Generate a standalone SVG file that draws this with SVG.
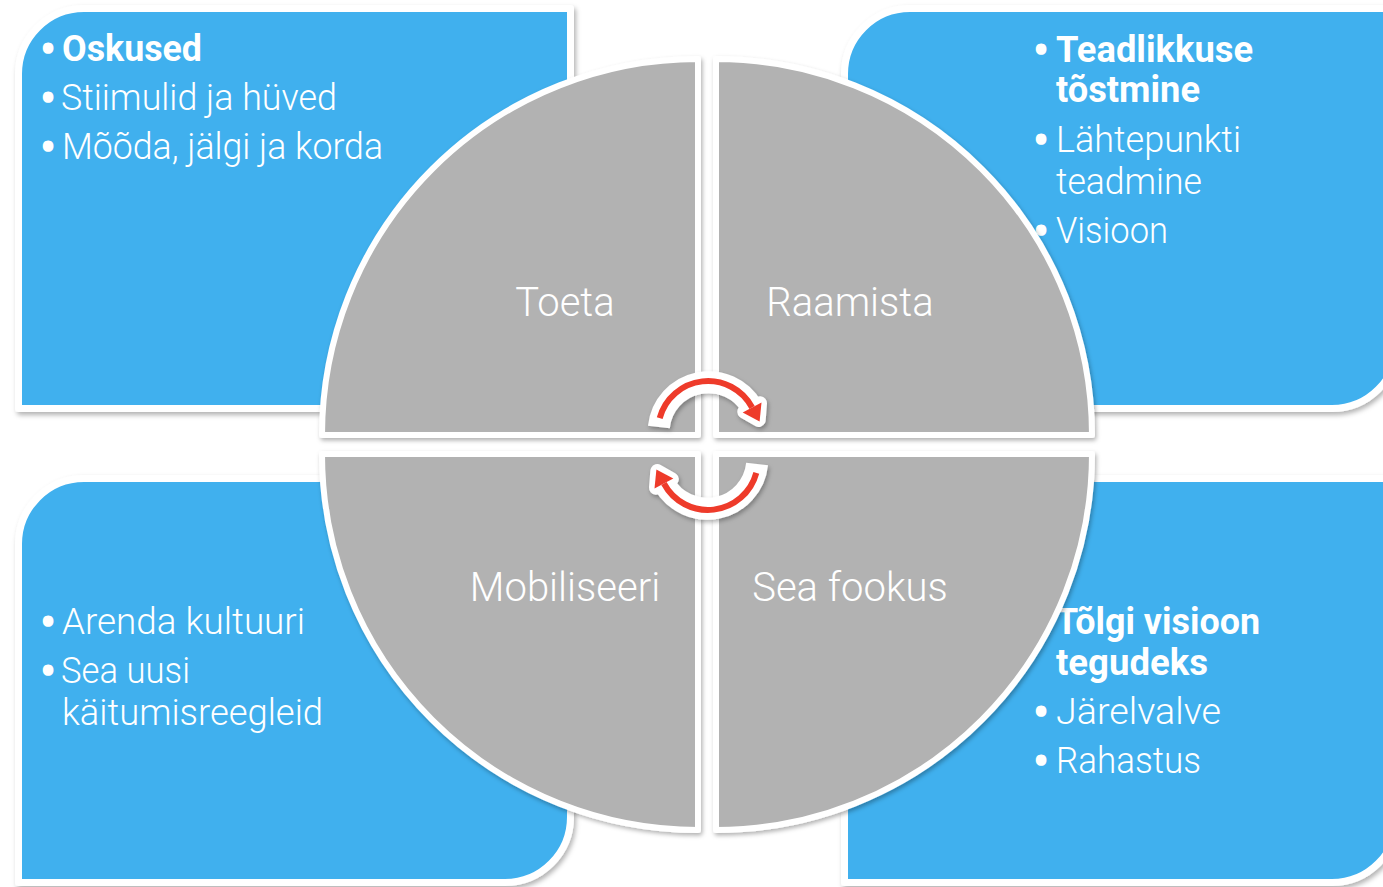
<svg xmlns="http://www.w3.org/2000/svg" xmlns:xlink="http://www.w3.org/1999/xlink" width="1383" height="887" viewBox="0 0 1383 887">
<defs>
<style>
.box{fill:#41B0EE;stroke:#FFFFFF;stroke-width:7;stroke-linejoin:round}
.quad{fill:#B2B2B2;stroke:#FFFFFF;stroke-width:6;stroke-linejoin:round}
.t{font-family:Roboto,"Liberation Sans",sans-serif;font-size:36px;font-weight:300;fill:#FFFFFF}
.b{font-weight:700}
.lbl{font-family:Roboto,"Liberation Sans",sans-serif;font-size:40px;font-weight:300;fill:#FFFFFF;text-anchor:middle}
.bul{font-weight:400;stroke:#FFFFFF;stroke-width:3.4;stroke-linejoin:round}
</style>
<filter id="sh" x="-10%" y="-10%" width="120%" height="120%">
<feDropShadow dx="2" dy="3" stdDeviation="2.5" flood-color="#000000" flood-opacity="0.3"/>
</filter>
<filter id="sh2" x="-30%" y="-30%" width="160%" height="160%">
<feDropShadow dx="1.5" dy="2.5" stdDeviation="2" flood-color="#000000" flood-opacity="0.3"/>
</filter>
<g id="arrow">
<path d="M 658.9 427.0 A 50 50 0 0 1 752.1 407.5" fill="none" stroke="#FFFFFF" stroke-width="22"/>
<polygon points="760.0,403.3 744.2,411.7 758.7,419.9" fill="#FFFFFF" stroke="#FFFFFF" stroke-width="14" stroke-linejoin="round"/>
<path d="M 659.7 418.1 A 50 50 0 0 1 752.1 407.5" fill="none" stroke="#EE3A2C" stroke-width="6"/>
<polygon points="761.5,402.5 742.7,412.5 759.6,421.6" fill="#EE3A2C"/>
</g>
</defs>
<rect width="1383" height="887" fill="#FFFFFF"/>

<g id="box-tl">
<path class="box" filter="url(#sh)" d="M 18.5 74 A 65.5 65.5 0 0 1 84 8.5 L 570.5 8.5 L 570.5 343 A 65.5 65.5 0 0 1 505 408.5 L 18.5 408.5 Z"/>
<text class="t"><tspan class="bul" x="42" y="62">•</tspan><tspan class="b" x="62" y="61" textLength="140" lengthAdjust="spacingAndGlyphs">Oskused</tspan></text>
<text class="t"><tspan class="bul" x="42" y="111">•</tspan><tspan x="61" y="110" textLength="276" lengthAdjust="spacingAndGlyphs">Stiimulid ja hüved</tspan></text>
<text class="t"><tspan class="bul" x="42" y="160">•</tspan><tspan x="62" y="159" textLength="321" lengthAdjust="spacingAndGlyphs">Mõõda, jälgi ja korda</tspan></text>
</g>

<g id="box-tr">
<path class="box" filter="url(#sh)" d="M 844.5 74 A 65.5 65.5 0 0 1 910 8.5 L 1397.5 8.5 L 1397.5 343 A 65.5 65.5 0 0 1 1332 408.5 L 844.5 408.5 Z"/>
<text class="t"><tspan class="bul" x="1035" y="63">•</tspan><tspan class="b" x="1056" y="62" textLength="197" lengthAdjust="spacingAndGlyphs">Teadlikkuse</tspan><tspan class="b" x="1056" y="102" textLength="144" lengthAdjust="spacingAndGlyphs">tõstmine</tspan></text>
<text class="t"><tspan class="bul" x="1035" y="153">•</tspan><tspan x="1056" y="152" textLength="185" lengthAdjust="spacingAndGlyphs">Lähtepunkti</tspan><tspan x="1056" y="194" textLength="146" lengthAdjust="spacingAndGlyphs">teadmine</tspan></text>
<text class="t"><tspan class="bul" x="1035" y="244">•</tspan><tspan x="1056" y="243" textLength="112" lengthAdjust="spacingAndGlyphs">Visioon</tspan></text>
</g>

<g id="box-bl">
<path class="box" filter="url(#sh)" d="M 18.5 544 A 65.5 65.5 0 0 1 84 478.5 L 570.5 478.5 L 570.5 817 A 65.5 65.5 0 0 1 505 882.5 L 18.5 882.5 Z"/>
<text class="t"><tspan class="bul" x="42" y="635">•</tspan><tspan x="62" y="634" textLength="243" lengthAdjust="spacingAndGlyphs">Arenda kultuuri</tspan></text>
<text class="t"><tspan class="bul" x="42" y="684">•</tspan><tspan x="61" y="683" textLength="129" lengthAdjust="spacingAndGlyphs">Sea uusi</tspan><tspan x="62" y="725" textLength="261" lengthAdjust="spacingAndGlyphs">käitumisreegleid</tspan></text>
</g>

<g id="box-br">
<path class="box" filter="url(#sh)" d="M 844.5 544 A 65.5 65.5 0 0 1 910 478.5 L 1397.5 478.5 L 1397.5 817 A 65.5 65.5 0 0 1 1332 882.5 L 844.5 882.5 Z"/>
<text class="t"><tspan class="bul" x="1035" y="635">•</tspan><tspan class="b" x="1056" y="634" textLength="204" lengthAdjust="spacingAndGlyphs">Tõlgi visioon</tspan><tspan class="b" x="1056" y="675" textLength="152" lengthAdjust="spacingAndGlyphs">tegudeks</tspan></text>
<text class="t"><tspan class="bul" x="1035" y="725">•</tspan><tspan x="1056" y="724" textLength="165" lengthAdjust="spacingAndGlyphs">Järelvalve</tspan></text>
<text class="t"><tspan class="bul" x="1035" y="774">•</tspan><tspan x="1056" y="773" textLength="145" lengthAdjust="spacingAndGlyphs">Rahastus</tspan></text>
</g>

<g id="quad-toeta">
<path class="quad" filter="url(#sh2)" d="M 698 435 L 322 435 A 376 376 0 0 1 698 59 Z"/>
<text class="lbl" x="565" y="316">Toeta</text>
</g>
<g id="quad-raamista">
<path class="quad" filter="url(#sh2)" d="M 716 435 L 716 59 A 376 376 0 0 1 1092 435 Z"/>
<text class="lbl" x="850" y="316">Raamista</text>
</g>
<g id="quad-mobiliseeri">
<path class="quad" filter="url(#sh2)" d="M 698 454 L 698 830 A 376 376 0 0 1 322 454 Z"/>
<text class="lbl" x="565" y="601">Mobiliseeri</text>
</g>
<g id="quad-seafookus">
<path class="quad" filter="url(#sh2)" d="M 716 454 L 1092 454 A 376 376 0 0 1 716 830 Z"/>
<text class="lbl" x="850" y="601">Sea fookus</text>
</g>

<g id="connectors" filter="url(#sh2)">
<use xlink:href="#arrow"/>
<use xlink:href="#arrow" transform="rotate(180 708 445.5)"/>
</g>
</svg>
